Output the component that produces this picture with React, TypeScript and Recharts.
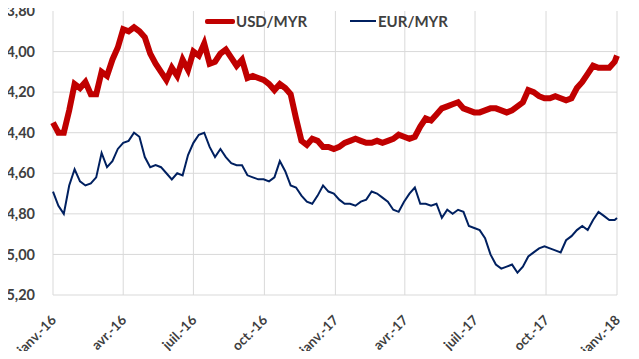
import React from 'react';
import { LineChart, Line, XAxis, YAxis, CartesianGrid, Legend } from 'recharts';

// x axis: days since 1 Jan 2016, quarter starts
const quarterDays = [0, 91, 182, 274, 366, 456, 547, 639, 731];
const quarterLabels = ['janv.-16', 'avr.-16', 'juil.-16', 'oct.-16', 'janv.-17', 'avr.-17', 'juil.-17', 'oct.-17', 'janv.-18'];
const yTicks = [3.8, 4.0, 4.2, 4.4, 4.6, 4.8, 5.0, 5.2];

// weekly readings, first = 1 Jan 2016, last = 1 Jan 2018
const usdMyr = [
  4.35, 4.40, 4.40, 4.29, 4.16, 4.18, 4.15, 4.21, 4.21, 4.10, 4.12, 4.04, 3.98, 3.89,
  3.90, 3.88, 3.90, 3.93, 4.01, 4.06, 4.10, 4.14, 4.08, 4.12, 4.04, 4.09, 4.00,
  4.02, 3.96, 4.06, 4.05, 4.01, 3.99, 4.03, 4.07, 4.04, 4.13, 4.12, 4.13, 4.14,
  4.16, 4.19, 4.16, 4.18, 4.21, 4.33, 4.44, 4.46, 4.43, 4.44, 4.47, 4.47, 4.48,
  4.47, 4.45, 4.44, 4.43, 4.44, 4.45, 4.45, 4.44, 4.45, 4.44, 4.43, 4.41, 4.42,
  4.43, 4.42, 4.37, 4.33, 4.34, 4.31, 4.28, 4.27, 4.26, 4.25, 4.28, 4.29, 4.30,
  4.30, 4.29, 4.28, 4.28, 4.29, 4.30, 4.29, 4.27, 4.25, 4.19, 4.20, 4.22, 4.23,
  4.23, 4.22, 4.23, 4.24, 4.23, 4.18, 4.15, 4.11, 4.07, 4.08, 4.08, 4.08, 4.05, 4.02,
];

const eurMyr = [
  4.69, 4.76, 4.80, 4.66, 4.58, 4.64, 4.66, 4.65, 4.62, 4.50, 4.57, 4.54, 4.48, 4.45,
  4.44, 4.40, 4.42, 4.52, 4.57, 4.56, 4.57, 4.60, 4.63, 4.60, 4.61, 4.51, 4.45,
  4.41, 4.40, 4.47, 4.52, 4.48, 4.52, 4.55, 4.56, 4.56, 4.61, 4.62, 4.63, 4.63,
  4.64, 4.62, 4.54, 4.59, 4.66, 4.67, 4.71, 4.74, 4.75, 4.71, 4.66, 4.69, 4.70,
  4.73, 4.75, 4.75, 4.76, 4.74, 4.73, 4.69, 4.70, 4.72, 4.74, 4.78, 4.79, 4.74,
  4.70, 4.67, 4.75, 4.75, 4.76, 4.75, 4.82, 4.78, 4.80, 4.78, 4.79, 4.86, 4.87,
  4.88, 4.92, 5.00, 5.05, 5.07, 5.06, 5.05, 5.09, 5.06, 5.01, 4.99, 4.97, 4.96,
  4.97, 4.98, 4.99, 4.93, 4.91, 4.88, 4.86, 4.88, 4.83, 4.79, 4.81, 4.83, 4.83, 4.82,
];

const data = usdMyr.map((usd, i) => ({
  day: Math.min(i * 7, 731),
  usd,
  eur: eurMyr[i],
}));

const textColor = '#404040';
const font = 'Lato, "Open Sans", sans-serif';

const XTick = ({ x, y, payload }: any) => {
  const idx = quarterDays.indexOf(payload.value);
  return (
    <g transform={`translate(${x + 4},${y + 18}) rotate(-45)`}>
      <text x={0} y={0} textAnchor="end" fill={textColor} fontSize={13.5} fontWeight="bold" fontFamily={font}>
        {quarterLabels[idx]}
      </text>
    </g>
  );
};

const LegendBox = () => (
  <div style={{ position: 'relative', width: 260, height: 16, fontFamily: font, fontWeight: 'bold', fontSize: 15, color: textColor, lineHeight: '16px' }}>
    <div style={{ position: 'absolute', left: 0, top: 0, display: 'flex', alignItems: 'center' }}>
      <span style={{ display: 'inline-block', width: 30, height: 5, background: '#C00000', borderRadius: 2 }} />
      <span style={{ marginLeft: 1 }}>USD/MYR</span>
    </div>
    <div style={{ position: 'absolute', left: 145, top: 0, display: 'flex', alignItems: 'center' }}>
      <span style={{ display: 'inline-block', width: 26, height: 2, background: '#002060' }} />
      <span style={{ marginLeft: 2 }}>EUR/MYR</span>
    </div>
  </div>
);

export default function App() {
  return (
    <div style={{ width: 639, height: 359, margin: -8 }}>
      <LineChart width={639} height={359} data={data} margin={{ top: 11, right: 22, left: 0, bottom: 0 }}>
        <CartesianGrid stroke="#d9d9d9" strokeWidth={1} horizontalValues={yTicks.slice(1)} verticalValues={quarterDays} />
        <XAxis
          dataKey="day"
          type="number"
          domain={[0, 731]}
          ticks={quarterDays}
          interval={0}
          height={64}
          axisLine={false}
          tickLine={false}
          tick={<XTick />}
        />
        <YAxis
          type="number"
          domain={[3.8, 5.2]}
          reversed
          ticks={yTicks}
          interval={0}
          width={53}
          axisLine={false}
          tickLine={false}
          tickMargin={12}
          tickFormatter={(v: number) => v.toFixed(2).replace('.', ',')}
          tick={{ fill: textColor, fontSize: 14.5, fontWeight: 'bold', fontFamily: font }}
        />
        <Legend
          layout="horizontal"
          verticalAlign="middle"
          content={<LegendBox />}
          wrapperStyle={{ top: 13, left: 205, width: 'auto' }}
        />
        <Line type="linear" dataKey="usd" stroke="#C00000" strokeWidth={6} dot={false} isAnimationActive={false} />
        <Line type="linear" dataKey="eur" stroke="#002060" strokeWidth={2} dot={false} isAnimationActive={false} />
      </LineChart>
    </div>
  );
}
